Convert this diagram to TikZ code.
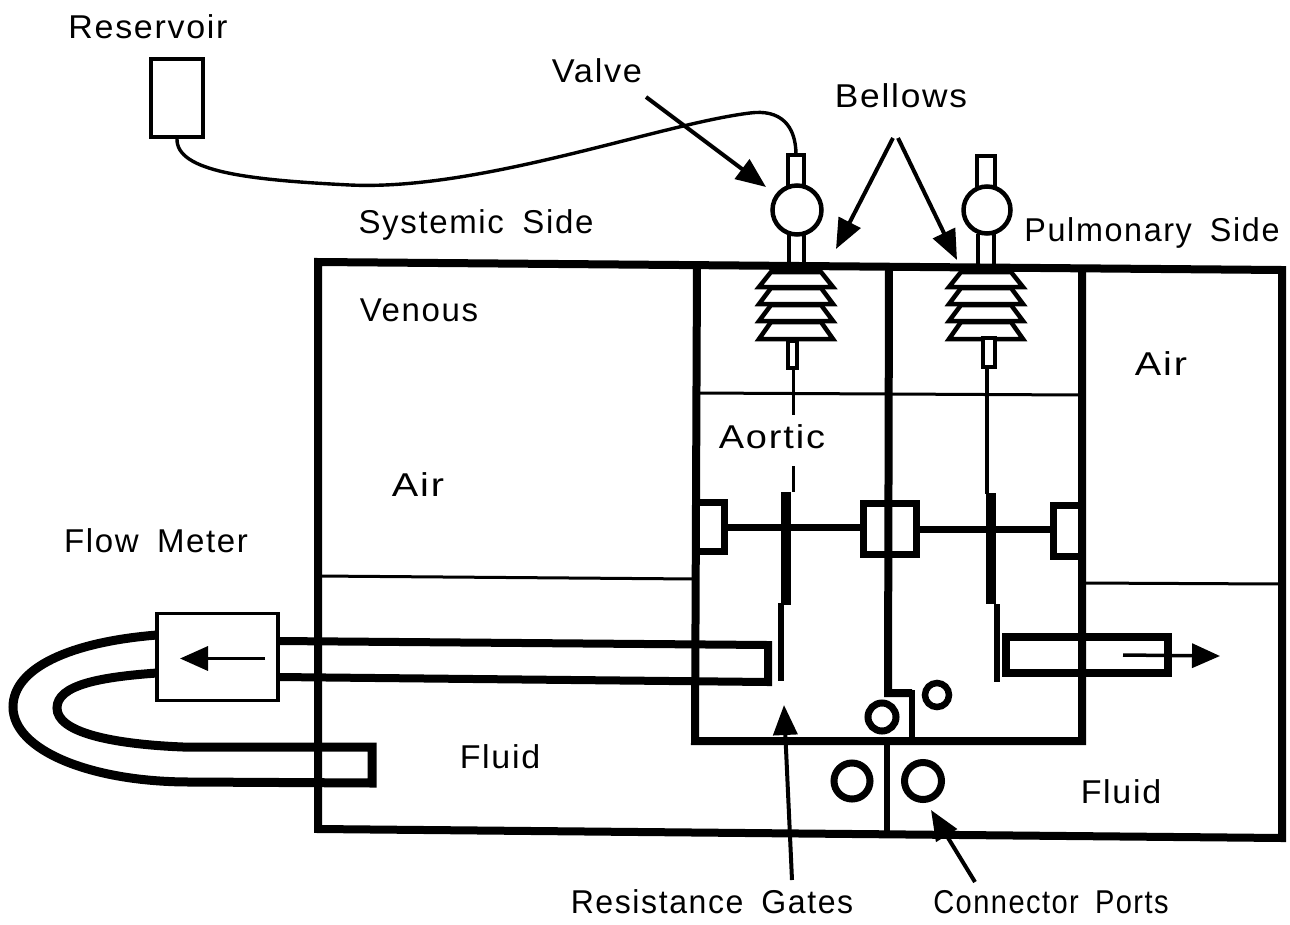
\documentclass[tikz,border=0pt]{standalone}
\usepackage{fontspec}
\setmainfont[LetterSpace=5,WordSpace=1.7]{Liberation Sans}
\usetikzlibrary{arrows.meta,calc}
\tikzset{
  wall/.style={line width=8pt,line cap=butt,line join=miter},
  hair/.style={line width=3pt},
  gate/.style={line width=6pt},
  tube/.style={line width=8pt,line join=miter},
  flow/.style={line width=3.5pt,-{Triangle[length=28pt,width=24pt]}},
  pointer/.style={line width=4pt,-{Triangle[length=30pt,width=24pt]}},
  label/.style={inner sep=0pt,font=\fontsize{33}{38}\selectfont,anchor=center},
  bellow/.style={line width=4.5pt,fill=white,line join=miter},
  port/.style={circle,draw,inner sep=0pt,fill=white},
}
\newcommand{\bellowstack}[1]{%
  \foreach \t/\b in {272/287,288/304,305/321,322/339}{
    \draw[bellow] ({#1-25},\t) -- ({#1+25},\t) -- ({#1+37},\b) -- ({#1-37},\b) -- cycle;
  }
}
\begin{document}
\begin{tikzpicture}[x=1pt,y=-1pt]
\useasboundingbox (0,0) rectangle (1290,924);
\fill[white] (0,0) rectangle (1290,924);

% labels
\node[label] (reservoirL) at (148,27) {\scalebox{1.03}[1]{Reservoir}};
\node[label] (valveL) at (597,71) {\scalebox{1.04}[1]{Valve}};
\node[label] (bellowsL) at (901,96) {\scalebox{1.07}[1]{Bellows}};
\node[label] (systemicL) at (476,225) {Systemic Side};
\node[label] (pulmonaryL) at (1152,233) {\scalebox{0.98}[1]{Pulmonary Side}};
\node[label] (venousL) at (419,310) {Venous};
\node[label] (airR) at (1161,364) {\scalebox{1.2}[1]{Air}};
\node[label] (aorticL) at (772,437) {\scalebox{1.15}[1]{Aortic}};
\node[label] (airL) at (418,485) {\scalebox{1.2}[1]{Air}};
\node[label] (flowL) at (156,541) {Flow Meter};
\node[label] (fluidL) at (500,757) {\scalebox{1.03}[1]{Fluid}};
\node[label] (fluidR) at (1121,792) {\scalebox{1.03}[1]{Fluid}};
\node[label] (gatesL) at (712,902) {\scalebox{0.97}[1]{Resistance Gates}};
\node[label] (portsL) at (1051,902) {\scalebox{0.88}[1]{Connector Ports}};

% outer tank
\draw[wall] (318,262) -- (1282,270) -- (1282,838) -- (318,829) -- cycle;
% inner chamber
\draw[wall] (697,265) -- (695,741) -- (1082,741) -- (1082,270);
% centre wall
\draw[wall] (889,266) -- (888,693) -- (912,693);
\draw[line width=5.5pt] (912,690) -- (912,741);
\draw[line width=6.5pt] (887,741) -- (887,832);

% fluid levels
\draw[hair] (318,576) -- (696,579);
\draw[hair] (697,393) -- (1081,395);
\draw[hair] (1081,583) -- (1280,584);

% valves and stems
\draw[line width=4.5pt,fill=white] (788,155) rectangle (804,190);
\draw[line width=4.5pt,fill=white] (977,156) rectangle (995,190);
\draw[line width=4.5pt] (789,234) -- (789,264) (804,234) -- (804,264);
\draw[line width=4.5pt] (978,234) -- (978,265) (994,234) -- (994,265);
\node[port,line width=4.5pt,minimum size=49pt] (valveA) at (797,210) {};
\node[port,line width=4.5pt,minimum size=47pt] (valveB) at (987,210) {};

% bellows
\bellowstack{796}
\bellowstack{986}
\draw[line width=3.8pt,fill=white] (788,341) rectangle (797,368);
\draw[line width=4.2pt,fill=white] (983,338) rectangle (995,367);

% rods
\draw[hair] (793,368) -- (793,415);
\draw[hair] (793,466) -- (793,492);
\draw[line width=3.6pt] (987,368) -- (987,494);

% gates
\draw[line width=10.5pt] (786,492) -- (786,605);
\draw[gate] (781,603) -- (781,681);
\draw[line width=10.5pt] (991,493) -- (991,604);
\draw[gate] (997,604) -- (997,682);

% linkages
\draw[line width=7pt] (725,527) -- (863,527);
\draw[line width=7pt] (916,529) -- (1052,529);
\draw[line width=7pt] (698,502) -- (724,502) -- (724,551) -- (698,551);
\draw[line width=7pt] (863,503) rectangle (916,554);
\draw[line width=7pt] (1080,505) -- (1053,505) -- (1053,556) -- (1080,556);

% inlet tube (systemic)
\draw[tube] (278,641) -- (768,645) -- (768,682) -- (278,677);

% flow meter return tube
\draw[line width=9pt,line join=miter] (157,635) .. controls (70,642) and (13,668) .. (13,707)
  .. controls (13,750) and (90,782) .. (190,782) -- (372,783) -- (372,747) -- (183,747)
  .. controls (110,744) and (57,732) .. (57,708)
  .. controls (57,685) and (100,677) .. (157,673);

% flow meter
\node[draw,line width=3.8pt,minimum width=121pt,minimum height=87pt,inner sep=0pt,fill=white] (meter) at (217.5,657) {};
\coordinate (meterTail) at (265,658.5);
\coordinate (meterHead) at (180,658.5);
\draw[flow] (meterTail) -- (meterHead);

% outlet tube (pulmonary)
\draw[tube] (1006,637) rectangle (1168,673);
\coordinate (outTail) at (1123,655);
\coordinate (outHead) at (1220,656);
\draw[flow] (outTail) -- (outHead);

% ports
\node[port,line width=7pt,minimum size=28pt] (p1) at (882,717) {};
\node[port,line width=6.5pt,minimum size=24pt] (p2) at (937,695) {};
\node[port,line width=7pt,minimum size=36pt] (p3) at (852,781) {};
\node[port,line width=7pt,minimum size=37pt] (p4) at (923,781) {};

% reservoir
\node[draw,line width=3.4pt,minimum width=52pt,minimum height=78pt,inner sep=0pt] (reservoir) at (177,98) {};
\draw[line width=3.4pt] (reservoir.south) .. controls (176,172) and (250,180) .. (350,185)
  .. controls (480,191) and (660,124) .. (750,113)
  .. controls (780,109) and (796,125) .. (796,155);

% pointers
\coordinate (valveTail) at (646,97);
\coordinate (valveHead) at (766,187);
\coordinate (bellTailA) at (893,138);
\coordinate (bellHeadA) at (836,249);
\coordinate (bellTailB) at (898,138);
\coordinate (bellHeadB) at (957,260);
\coordinate (gateTail) at (792,880);
\coordinate (gateHead) at (784,705);
\coordinate (portTail) at (975,882);
\coordinate (portHead) at (931,810);
\draw[pointer] (valveTail) -- (valveHead);
\draw[pointer] (bellTailA) -- (bellHeadA);
\draw[pointer] (bellTailB) -- (bellHeadB);
\draw[pointer] (gateTail) -- (gateHead);
\draw[pointer] (portTail) -- (portHead);
\end{tikzpicture}
\end{document}
